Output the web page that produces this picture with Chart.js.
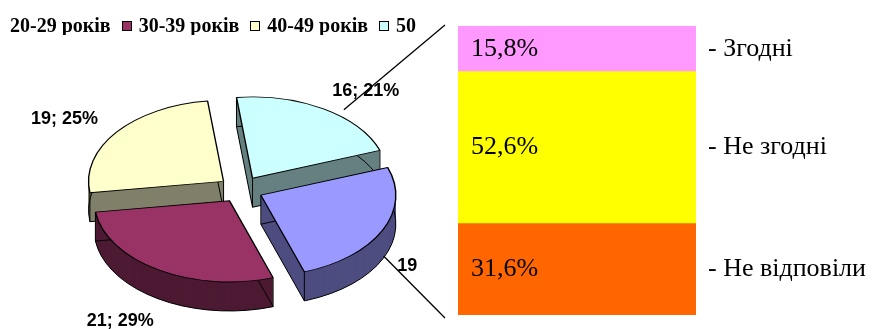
<!DOCTYPE html>
<html>
<head>
<meta charset="utf-8">
<script src="https://cdn.jsdelivr.net/npm/chart.js@4.4.0/dist/chart.umd.min.js"></script>
<style>
  body { margin: 0; background: #fff; }
  #wrap { position: relative; width: 878px; height: 329px; overflow: hidden; }
  #wrap canvas { position: absolute; left: 0; top: 0; }
  #ageLegend { position: absolute; left: 10px; top: 16px; width: 420px; overflow: hidden; white-space: nowrap;
    font: bold 20px "Liberation Serif", "Times New Roman", serif; line-height: 19px; color: #000; }
  #ageLegend .inner { margin-left: -17px; }
  #ageLegend i { display: inline-block; width: 8px; height: 8px; border: 1px solid #000; margin-right: 7px; vertical-align: 1px; }
  #ageLegend span { margin-right: 11px; }
</style>
</head>
<body>
<div id="wrap">
  <canvas id="pieChart" width="878" height="329"></canvas>
  <canvas id="barChart" width="878" height="329"></canvas>
  <div id="ageLegend"><div class="inner"></div></div>
</div>
<script>
// age groups (pie)
const ageGroups = ['20-29 років', '30-39 років', '40-49 років', '50'];
const respondents = [19, 21, 19, 16];
const sharePct = [25, 29, 25, 21];
const ageColors = ['#9999FF', '#993366', '#FFFFCC', '#CCFFFF'];
const ageSides = ['#4D4D80', '#4D1A33', '#80806A', '#668080'];

// answers of the first group (bar)
const answers = ['- Згодні', '- Не згодні', '- Не відповіли'];
const answerShare = [15.8, 52.6, 31.6];
const answerColors = ['#FF99FF', '#FFFF00', '#FF6600'];

const TILT = 0.6;      // vertical squash of the pie
const DEPTH = 29;      // thickness of the pie in px
const PIE_Y = 189.5;   // screen y of the pie centre
const EXPLODE = 88;    // arc offset (chart.js moves a slice by offset / 4)
const labelNudge = [[-14, 10], [-16, 0], [-18, 6], [20, 8]];

function sliceGeom(arc) {
  const m = (arc.startAngle + arc.endAngle) / 2;
  const off = (arc.options.offset || 0) / 4;
  const fix = 1 - Math.sin(Math.min(Math.PI, arc.endAngle - arc.startAngle));
  return {
    m,
    x: arc.x + Math.cos(m) * off,
    y: PIE_Y + Math.sin(m) * off * TILT,
    r: arc.outerRadius + off * fix
  };
}

function drawSide(ctx, arc, color) {
  const g = sliceGeom(arc);
  const shape = d => {
    ctx.beginPath();
    ctx.moveTo(g.x, g.y + d);
    ctx.ellipse(g.x, g.y + d, g.r, g.r * TILT, 0, arc.startAngle, arc.endAngle);
    ctx.closePath();
  };
  ctx.save();
  ctx.fillStyle = color;
  for (let d = DEPTH; d >= 1; d--) { shape(d); ctx.fill(); }
  ctx.strokeStyle = '#000';
  ctx.lineWidth = 1;
  shape(DEPTH);
  ctx.stroke();
  ctx.beginPath();
  [null, arc.startAngle, arc.endAngle].forEach(a => {
    const px = a === null ? g.x : g.x + g.r * Math.cos(a);
    const py = a === null ? g.y : g.y + g.r * TILT * Math.sin(a);
    ctx.moveTo(px, py);
    ctx.lineTo(px, py + DEPTH);
  });
  ctx.stroke();
  ctx.restore();
}

const pie3d = {
  id: 'pie3d',
  beforeDatasetsDraw(chart) {
    const ctx = chart.ctx;
    const arcs = chart.getDatasetMeta(0).data;
    // back slices first
    const order = arcs.map((a, i) => i)
      .sort((i, j) => Math.sin(sliceGeom(arcs[i]).m) - Math.sin(sliceGeom(arcs[j]).m));
    order.forEach(i => drawSide(ctx, arcs[i], ageSides[i]));
    ctx.save();
    ctx.translate(0, PIE_Y);
    ctx.scale(1, TILT);
    ctx.translate(0, -arcs[0].y);
  },
  afterDatasetsDraw(chart) {
    const ctx = chart.ctx;
    ctx.restore();
    const arcs = chart.getDatasetMeta(0).data;
    ctx.save();
    ctx.font = 'bold 18px "Liberation Sans", Arial, sans-serif';
    ctx.fillStyle = '#000';
    ctx.textAlign = 'center';
    ctx.textBaseline = 'middle';
    arcs.forEach((arc, i) => {
      const m = (arc.startAngle + arc.endAngle) / 2;
      const s = Math.sin(m);
      const x = arc.x + Math.cos(m) * 200 + labelNudge[i][0];
      const y = PIE_Y + s * 125 + Math.max(0, s) * DEPTH + labelNudge[i][1];
      // the split-out slice keeps only its count
      const txt = i === 0 ? String(respondents[i]) : respondents[i] + '; ' + sharePct[i] + '%';
      ctx.fillText(txt, x, y);
    });
    ctx.restore();
  }
};

const pieChart = new Chart(document.getElementById('pieChart'), {
  type: 'pie',
  data: {
    labels: ageGroups,
    datasets: [{
      data: respondents,
      backgroundColor: ageColors,
      borderColor: '#000',
      borderWidth: 1.4,
      offset: EXPLODE,
      radius: 135,
      clip: false
    }]
  },
  options: {
    responsive: false,
    animation: false,
    rotation: 70,
    layout: { padding: { left: 0, right: 396, top: 0, bottom: 0 } },
    plugins: { legend: { display: false }, tooltip: { enabled: false } }
  },
  plugins: [pie3d]
});

// legend of the age groups
const legendInner = document.querySelector('#ageLegend .inner');
ageGroups.forEach((label, i) => {
  const item = document.createElement('span');
  item.innerHTML = `<i style="background-color:${ageColors[i]}"></i>${label}`;
  legendInner.appendChild(item);
});

const barLabels = {
  id: 'barLabels',
  afterDatasetsDraw(chart) {
    const ctx = chart.ctx;
    ctx.save();
    ctx.font = '26px "Liberation Serif", "Times New Roman", serif';
    ctx.fillStyle = '#000';
    ctx.textBaseline = 'middle';
    ctx.textAlign = 'left';
    chart.data.datasets.forEach((ds, di) => {
      const bar = chart.getDatasetMeta(di).data[0];
      const cy = (bar.y + bar.base) / 2;
      const left = bar.x - bar.width / 2;
      const right = bar.x + bar.width / 2;
      ctx.fillText(ds.data[0].toFixed(1).replace('.', ',') + '%', left + 13, cy);
      ctx.fillText(ds.label, right + 12, cy);
    });
    ctx.restore();
  }
};

// lines joining the split slice to the bar
const seriesLines = {
  id: 'seriesLines',
  afterDraw(chart) {
    const ctx = chart.ctx;
    const n = chart.data.datasets.length;
    const topBar = chart.getDatasetMeta(n - 1).data[0];
    const lowBar = chart.getDatasetMeta(0).data[0];
    const endX = topBar.x - topBar.width / 2 - 13;
    const arcs = pieChart.getDatasetMeta(0).data;
    const back = arcs[arcs.length - 1];
    const bm = (back.startAngle + back.endAngle) / 2;
    const r1 = back.outerRadius * 1.2;
    const g = sliceGeom(arcs[0]);
    const a = arcs[0].startAngle + 0.7;
    ctx.save();
    ctx.strokeStyle = '#000';
    ctx.lineWidth = 1.3;
    ctx.beginPath();
    ctx.moveTo(back.x + Math.cos(bm) * r1 + 18, PIE_Y + Math.sin(bm) * r1 * TILT + 3);
    ctx.lineTo(endX, topBar.y - 1);
    ctx.moveTo(g.x + g.r * Math.cos(a) - 4, g.y + g.r * TILT * Math.sin(a) + DEPTH + 4);
    ctx.lineTo(endX, lowBar.base + 3);
    ctx.stroke();
    ctx.restore();
  }
};

new Chart(document.getElementById('barChart'), {
  type: 'bar',
  data: {
    labels: [''],
    datasets: answers.map((a, i) => ({
      label: a,
      data: [answerShare[i]],
      backgroundColor: answerColors[i],
      borderWidth: 0,
      categoryPercentage: 1,
      barPercentage: 1
    })).reverse()
  },
  options: {
    responsive: false,
    animation: false,
    layout: { padding: { left: 458, right: 182, top: 26, bottom: 14 } },
    scales: {
      x: { display: false, stacked: true },
      y: { display: false, stacked: true, min: 0, max: 100 }
    },
    plugins: { legend: { display: false }, tooltip: { enabled: false } }
  },
  plugins: [barLabels, seriesLines]
});
</script>
</body>
</html>
